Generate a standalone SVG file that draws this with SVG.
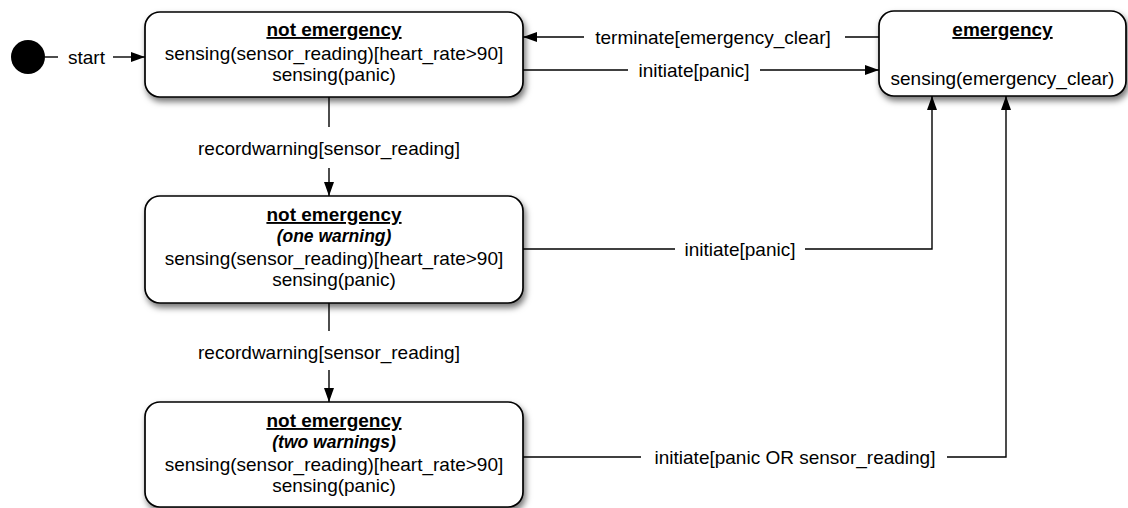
<svg xmlns="http://www.w3.org/2000/svg" width="1128" height="508" viewBox="0 0 1128 508">
  <style>
    text { font-family: "Liberation Sans", Arial, Helvetica, sans-serif; font-size: 19px; fill: #000; }
    .c { text-anchor: middle; }
    .title { font-weight: bold; text-decoration: underline; }
    .sub { font-weight: bold; font-style: italic; font-size: 17.5px; }
    .state { fill: #fff; stroke: #000; stroke-width: 1.7; filter: url(#shadow); }
    .edge { fill: none; stroke: #000; stroke-width: 1.4; }
  </style>
  <defs>
    <filter id="shadow" x="-10%" y="-20%" width="125%" height="150%">
      <feDropShadow dx="2" dy="4" stdDeviation="3" flood-color="#000" flood-opacity="0.55"/>
    </filter>
    <marker id="arrow" viewBox="0 0 14 10" refX="14" refY="5" markerWidth="14" markerHeight="10" markerUnits="userSpaceOnUse" orient="auto">
      <path d="M0,0 L14,5 L0,10 Z" fill="#000"/>
    </marker>
  </defs>

  <rect width="1128" height="508" fill="#fff"/>

  <!-- initial pseudo-state -->
  <g id="start">
    <circle cx="28" cy="57" r="17" fill="#000"/>
  </g>

  <!-- states -->
  <g id="not-emergency">
    <rect class="state" x="145" y="12" width="378" height="85" rx="15"/>
    <text class="c title" x="334" y="36">not emergency</text>
    <text class="c" x="334" y="60">sensing(sensor_reading)[heart_rate&gt;90]</text>
    <text class="c" x="334" y="81">sensing(panic)</text>
  </g>

  <g id="emergency">
    <rect class="state" x="879" y="11" width="247" height="85" rx="15"/>
    <text class="c title" x="1002.5" y="36">emergency</text>
    <text class="c" x="1002.5" y="85">sensing(emergency_clear)</text>
  </g>

  <g id="one-warning">
    <rect class="state" x="145" y="196" width="378" height="107" rx="15"/>
    <text class="c title" x="334" y="221">not emergency</text>
    <text class="c sub" x="334" y="242">(one warning)</text>
    <text class="c" x="334" y="265">sensing(sensor_reading)[heart_rate&gt;90]</text>
    <text class="c" x="334" y="286">sensing(panic)</text>
  </g>

  <g id="two-warnings">
    <rect class="state" x="145" y="402" width="378" height="105" rx="15"/>
    <text class="c title" x="334" y="427">not emergency</text>
    <text class="c sub" x="334" y="448">(two warnings)</text>
    <text class="c" x="334" y="471">sensing(sensor_reading)[heart_rate&gt;90]</text>
    <text class="c" x="334" y="492">sensing(panic)</text>
  </g>

  <!-- transitions -->
  <g id="connectors">
    <!-- start -->
    <path class="edge" d="M45,57 H58"/>
    <text x="68" y="64">start</text>
    <path class="edge" d="M113,57 H145" marker-end="url(#arrow)"/>

    <!-- emergency -> not emergency -->
    <path class="edge" d="M879,37 H845"/>
    <text class="c" x="713" y="44">terminate[emergency_clear]</text>
    <path class="edge" d="M584,37 H523" marker-end="url(#arrow)"/>

    <!-- not emergency -> emergency -->
    <path class="edge" d="M523,70 H628"/>
    <text class="c" x="694" y="77">initiate[panic]</text>
    <path class="edge" d="M760,70 H879" marker-end="url(#arrow)"/>

    <!-- not emergency -> one warning -->
    <path class="edge" d="M329,97 V127"/>
    <text class="c" x="329" y="155">recordwarning[sensor_reading]</text>
    <path class="edge" d="M329,168 V196" marker-end="url(#arrow)"/>

    <!-- one warning -> two warnings -->
    <path class="edge" d="M329,303 V331"/>
    <text class="c" x="329" y="359">recordwarning[sensor_reading]</text>
    <path class="edge" d="M329,370 V402" marker-end="url(#arrow)"/>

    <!-- one warning -> emergency -->
    <path class="edge" d="M523,249 H675"/>
    <text class="c" x="740" y="256">initiate[panic]</text>
    <path class="edge" d="M805,249 H932 V96" marker-end="url(#arrow)"/>

    <!-- two warnings -> emergency -->
    <path class="edge" d="M523,457 H641"/>
    <text class="c" x="795" y="464">initiate[panic OR sensor_reading]</text>
    <path class="edge" d="M947,457 H1006 V96" marker-end="url(#arrow)"/>
  </g>
</svg>
